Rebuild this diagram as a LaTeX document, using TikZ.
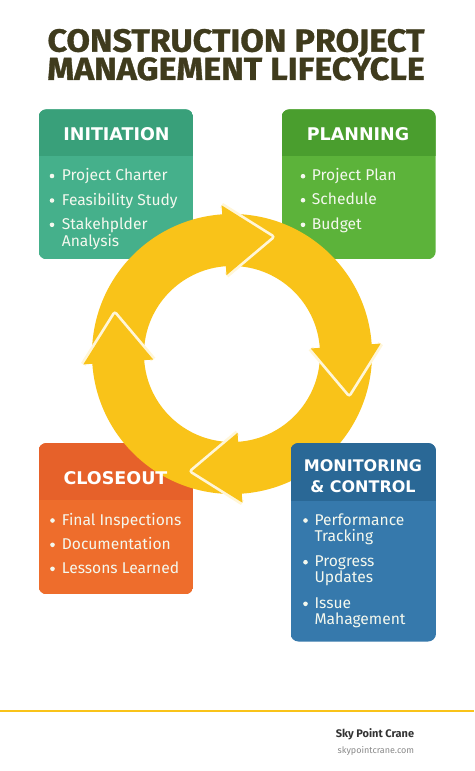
\documentclass[tikz,border=0pt]{standalone}
\usepackage{fontspec}
\setmainfont{Fira Sans}
\newfontfamily\titlefont{Fira Sans}[BoldFeatures={FakeBold=1.0}]
\newfontfamily\hdrfont{DejaVu Sans}
\definecolor{ringc}{HTML}{F9C319}
\definecolor{initH}{HTML}{39A07A}
\definecolor{initB}{HTML}{45B08B}
\definecolor{planH}{HTML}{4A9E2E}
\definecolor{planB}{HTML}{5CB33A}
\definecolor{closH}{HTML}{E6612A}
\definecolor{closB}{HTML}{EE6D2C}
\definecolor{monH}{HTML}{2A6896}
\definecolor{monB}{HTML}{3679AC}
\definecolor{titlec}{HTML}{3F3B1D}
\definecolor{txtc}{HTML}{F4F8EE}
\definecolor{outl}{HTML}{FFF6D8}
\definecolor{footA}{HTML}{333333}
\definecolor{footB}{HTML}{8A8A8A}
\newcommand\phasebox[7]{%
  \begin{scope}
    \clip[rounded corners=8pt] (#1,#2) rectangle (#3,#4);
    \fill[#7] (#1,#2) rectangle (#3,#4);
    \fill[#6] (#1,#2) rectangle (#3,#5);
  \end{scope}}
\begin{document}
\begin{tikzpicture}[x=1pt,y=-1pt,
  titlestyle/.style={font=\titlefont\bfseries\fontsize{32}{28.3}\selectfont, text=titlec, inner sep=0pt, align=center, xscale=1.065},
  hdr/.style={font=\hdrfont\bfseries\fontsize{17.5}{20}\selectfont, text=white, inner sep=0pt, anchor=base},
  hdrs/.style={hdr, font=\hdrfont\bfseries\fontsize{16}{20}\selectfont},
  itm/.style={font=\fontsize{15.6}{18}\selectfont, text=txtc, inner sep=0pt, anchor=base west},
  dot/.style={fill=txtc}]
\useasboundingbox (0,0) rectangle (474,771);
\fill[white] (0,0) rectangle (474,771);

% title
\node[titlestyle] (title) at (236,54.7) {CONSTRUCTION PROJECT\\MANAGEMENT LIFECYCLE};

% boxes under the ring
\phasebox{38.5}{109.3}{193.3}{259.3}{156}{initH}{initB}
\phasebox{281.5}{109.3}{435.7}{259.3}{156}{planH}{planB}
\phasebox{38.5}{443}{193.3}{594.3}{500}{closH}{closB}

% ring
\begin{scope}[shift={(232,354)}, yscale=-1]
  \fill[ringc, even odd rule] (0,0) circle (140) (0,0) circle (88);
  \foreach \b in {94,4,-86,184} {
    \draw[outl, line width=5.5pt, line join=round] (\b:149) -- (\b-22.8:123.7) -- (\b:79);
    \fill[ringc] (\b:149) -- (\b-22.8:123.7) -- (\b:79) -- cycle;
  }
\end{scope}

% box above the ring
\phasebox{290.5}{443}{436}{641.5}{501}{monH}{monB}

% headers
\node[hdr] (h1) at (116.5,140) {INITIATION};
\node[hdr] (h2) at (358,140.5) {PLANNING};
\node[hdr] (h3) at (115.5,484) {CLOSEOUT};
\node[hdrs] (h4a) at (363,471.7) {MONITORING};
\node[hdrs] (h4b) at (363,492.7) {\& CONTROL};

% initiation items
\fill[dot] (52,176) circle (2.3);
\node[itm] (a1) at (61.7,180.5) {Project Charter};
\fill[dot] (52,200.5) circle (2.3);
\node[itm] (a2) at (61.7,205) {Feasibility Study};
\fill[dot] (52,224.8) circle (2.3);
\node[itm] (a3) at (61.7,229.3) {Stakehplder};
\node[itm] (a3b) at (61.7,246.7) {Analysis};

% planning items
\fill[dot] (303,176.2) circle (2.3);
\node[itm] (b1) at (311.7,180.7) {Project Plan};
\fill[dot] (303,200.2) circle (2.3);
\node[itm] (b2) at (311.7,204.7) {Schedule};
\fill[dot] (303,224.8) circle (2.3);
\node[itm] (b3) at (311.7,229.3) {Budget};

% closeout items
\fill[dot] (52.5,520.5) circle (2.3);
\node[itm] (c1) at (61.7,525) {Final Inspections};
\fill[dot] (52.5,544.8) circle (2.3);
\node[itm] (c2) at (61.7,549.3) {Documentation};
\fill[dot] (52.5,568.8) circle (2.3);
\node[itm] (c3) at (61.7,573.3) {Lessons Learned};

% monitoring items
\fill[dot] (305.5,520.5) circle (2.3);
\node[itm] (d1) at (314.3,525) {Performance};
\node[itm] (d1b) at (314.3,541) {Tracking};
\fill[dot] (305.5,562.2) circle (2.3);
\node[itm] (d2) at (314.3,566.7) {Progress};
\node[itm] (d2b) at (314.3,582.5) {Updates};
\fill[dot] (305.5,603.8) circle (2.3);
\node[itm] (d3) at (314.3,608.3) {Issue};
\node[itm] (d3b) at (314.3,624.5) {Mahagement};

% footer
\coordinate (fl) at (0,711);
\coordinate (fr) at (474,711);
\draw[ringc, line width=2pt] (fl) -- (fr);
\node[anchor=base east, inner sep=0pt, font=\bfseries\fontsize{11}{13}\selectfont, text=footA] (f1) at (414.3,737.3) {Sky Point Crane};
\node[anchor=base east, inner sep=0pt, font=\fontsize{9}{11}\selectfont, text=footB] (f2) at (414.3,753.3) {skypointcrane.com};
\end{tikzpicture}
\end{document}
